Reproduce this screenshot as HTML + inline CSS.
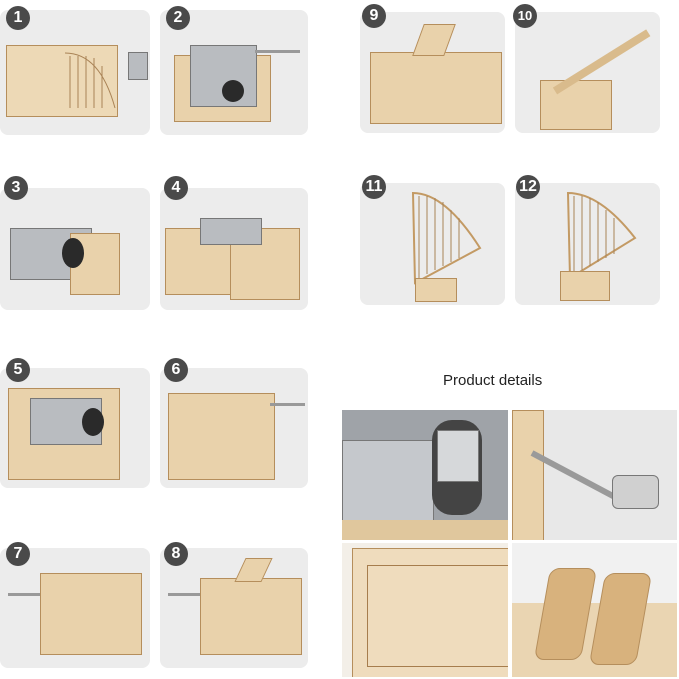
<!DOCTYPE html>
<html><head><meta charset="utf-8"><style>
body{margin:0;width:679px;height:679px;background:#fff;position:relative;overflow:hidden;font-family:"Liberation Sans",sans-serif}
.p{position:absolute;background:#ececec;border-radius:8px;overflow:hidden}
.n{position:absolute;width:24px;height:24px;border-radius:50%;background:#4a4a4a;color:#fff;font:bold 16px "Liberation Sans",sans-serif;text-align:center;line-height:24px;z-index:3}
.w{position:absolute;background:#e9d2ab;border:1px solid #b58e5c}
.m{position:absolute;background:#b9bcc0;border:1px solid #777}
.d{position:absolute;background:#2a2a2a;border-radius:50%}
</style></head><body>

<!-- row 1 -->
<div class="p" style="left:0;top:10px;width:150px;height:125px">
 <div class="w" style="left:6px;top:35px;width:110px;height:70px;background:#edd9b6"></div>
 <svg style="position:absolute;left:60px;top:38px" width="60" height="65"><g stroke="#a98356" fill="none"><path d="M5 5 Q40 5 55 60"/><line x1="10" y1="8" x2="10" y2="60"/><line x1="18" y1="8" x2="18" y2="60"/><line x1="26" y1="8" x2="26" y2="60"/><line x1="34" y1="10" x2="34" y2="60"/><line x1="42" y1="18" x2="42" y2="60"/></g></svg>
 <div class="m" style="left:128px;top:42px;width:18px;height:26px"></div>
</div>
<div class="n" style="left:6px;top:6px">1</div>

<div class="p" style="left:160px;top:10px;width:148px;height:125px">
 <div class="w" style="left:14px;top:45px;width:95px;height:65px"></div>
 <div class="m" style="left:30px;top:35px;width:65px;height:60px"></div>
 <div class="d" style="left:62px;top:70px;width:22px;height:22px"></div>
 <div style="position:absolute;left:95px;top:40px;width:45px;height:3px;background:#999"></div>
</div>
<div class="n" style="left:166px;top:6px">2</div>

<div class="p" style="left:360px;top:12px;width:145px;height:121px">
 <div class="w" style="left:10px;top:40px;width:130px;height:70px"></div>
 <div class="w" style="left:58px;top:12px;width:30px;height:30px;transform:skewX(-20deg)"></div>
</div>
<div class="n" style="left:362px;top:4px">9</div>

<div class="p" style="left:515px;top:12px;width:145px;height:121px">
 <div class="w" style="left:25px;top:68px;width:70px;height:48px"></div>
 <div style="position:absolute;left:40px;top:40px;width:110px;height:8px;background:#d9bb8c;transform:rotate(-32deg);transform-origin:left center;top:75px"></div>
</div>
<div class="n" style="left:513px;top:4px;font-size:13px">10</div>

<!-- row 2 -->
<div class="p" style="left:0;top:188px;width:150px;height:122px">
 <div class="m" style="left:10px;top:40px;width:80px;height:50px"></div>
 <div class="w" style="left:70px;top:45px;width:48px;height:60px"></div>
 <div class="d" style="left:62px;top:50px;width:22px;height:30px"></div>
</div>
<div class="n" style="left:4px;top:176px">3</div>

<div class="p" style="left:160px;top:188px;width:148px;height:122px">
 <div class="w" style="left:5px;top:40px;width:70px;height:65px"></div>
 <div class="w" style="left:70px;top:40px;width:68px;height:70px"></div>
 <div class="m" style="left:40px;top:30px;width:60px;height:25px"></div>
</div>
<div class="n" style="left:164px;top:176px">4</div>

<div class="p" style="left:360px;top:183px;width:145px;height:122px">
 <svg style="position:absolute;left:45px;top:5px" width="80" height="110"><g stroke="#c39a64" fill="none" stroke-width="2"><path d="M8 5 Q40 5 75 60 L10 95 Z"/><g stroke-width="1" stroke="#a98356"><line x1="14" y1="8" x2="14" y2="90"/><line x1="22" y1="8" x2="22" y2="86"/><line x1="30" y1="10" x2="30" y2="82"/><line x1="38" y1="14" x2="38" y2="78"/><line x1="46" y1="22" x2="46" y2="74"/><line x1="54" y1="30" x2="54" y2="70"/></g></g></svg>
 <div class="w" style="left:55px;top:95px;width:40px;height:22px"></div>
</div>
<div class="n" style="left:362px;top:175px">11</div>

<div class="p" style="left:515px;top:183px;width:145px;height:122px">
 <svg style="position:absolute;left:45px;top:5px" width="80" height="110"><g stroke="#c39a64" fill="none" stroke-width="2"><path d="M8 5 Q40 5 75 50 L10 90 Z"/><g stroke-width="1" stroke="#a98356"><line x1="14" y1="8" x2="14" y2="86"/><line x1="22" y1="8" x2="22" y2="82"/><line x1="30" y1="10" x2="30" y2="78"/><line x1="38" y1="14" x2="38" y2="74"/><line x1="46" y1="22" x2="46" y2="70"/><line x1="54" y1="30" x2="54" y2="66"/></g></g></svg>
 <div class="w" style="left:45px;top:88px;width:48px;height:28px"></div>
</div>
<div class="n" style="left:516px;top:175px">12</div>

<!-- row 3 -->
<div class="p" style="left:0;top:368px;width:150px;height:120px">
 <div class="w" style="left:8px;top:20px;width:110px;height:90px"></div>
 <div class="m" style="left:30px;top:30px;width:70px;height:45px"></div>
 <div class="d" style="left:82px;top:40px;width:22px;height:28px"></div>
</div>
<div class="n" style="left:6px;top:358px">5</div>

<div class="p" style="left:160px;top:368px;width:148px;height:120px">
 <div class="w" style="left:8px;top:25px;width:105px;height:85px"></div>
 <div style="position:absolute;left:110px;top:35px;width:35px;height:3px;background:#999"></div>
</div>
<div class="n" style="left:164px;top:358px">6</div>

<div style="position:absolute;left:443px;top:372px;font-size:15px;color:#222">Product details</div>

<!-- row 4 -->
<div class="p" style="left:0;top:548px;width:150px;height:120px">
 <div class="w" style="left:40px;top:25px;width:100px;height:80px"></div>
 <div style="position:absolute;left:8px;top:45px;width:32px;height:3px;background:#999"></div>
</div>
<div class="n" style="left:6px;top:542px">7</div>

<div class="p" style="left:160px;top:548px;width:148px;height:120px">
 <div class="w" style="left:40px;top:30px;width:100px;height:75px"></div>
 <div class="w" style="left:80px;top:10px;width:25px;height:22px;transform:skewX(-25deg)"></div>
 <div style="position:absolute;left:8px;top:45px;width:32px;height:3px;background:#999"></div>
</div>
<div class="n" style="left:164px;top:542px">8</div>

<!-- product details -->
<div class="p" style="left:342px;top:410px;width:166px;height:130px;background:#9fa3a8;border-radius:0">
 <div class="m" style="left:0;top:30px;width:90px;height:80px;background:#c5c8cc"></div>
 <div class="d" style="left:90px;top:10px;width:50px;height:95px;border-radius:20px;background:#444"></div>
 <div class="m" style="left:95px;top:20px;width:40px;height:50px;background:#d6d8da"></div>
 <div style="position:absolute;left:0;top:110px;width:166px;height:20px;background:#e0c79d"></div>
</div>
<div class="p" style="left:512px;top:410px;width:165px;height:130px;background:#e8e8e8;border-radius:0">
 <div class="w" style="left:0;top:0;width:30px;height:130px"></div>
 <div style="position:absolute;left:20px;top:40px;width:110px;height:6px;background:#9a9a9a;transform:rotate(28deg);transform-origin:left"></div>
 <div class="m" style="left:100px;top:65px;width:45px;height:32px;border-radius:6px;background:#d0d0d0"></div>
</div>
<div class="p" style="left:342px;top:543px;width:166px;height:134px;background:#f3efe8;border-radius:0">
 <div class="w" style="left:10px;top:5px;width:160px;height:130px;background:#efdcbd"></div>
 <div style="position:absolute;left:25px;top:22px;width:140px;height:100px;border:1px solid #a67d4d"></div>
</div>
<div class="p" style="left:512px;top:543px;width:165px;height:134px;background:#f1f1f1;border-radius:0">
 <div class="w" style="left:0;top:60px;width:165px;height:74px;background:#ead5b2;border:none"></div>
 <div class="w" style="left:30px;top:25px;width:45px;height:90px;background:#d8b27d;border-radius:10px;transform:skewX(-10deg)"></div>
 <div class="w" style="left:85px;top:30px;width:45px;height:90px;background:#d8b27d;border-radius:10px;transform:skewX(-10deg)"></div>
</div>
</body></html>
